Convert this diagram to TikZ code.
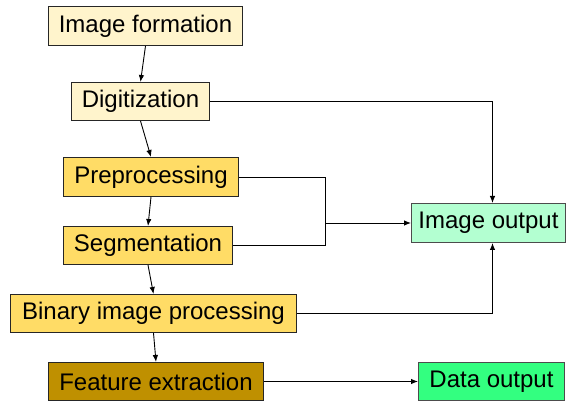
\documentclass[tikz,border=0pt]{standalone}
\usepackage{fontspec}
\setmainfont{Liberation Sans}
\usetikzlibrary{arrows.meta,calc}
\definecolor{paleyellow}{HTML}{FFF4CC}
\definecolor{goldbox}{HTML}{FFDC66}
\definecolor{darkgold}{HTML}{BF9000}
\definecolor{mintbox}{HTML}{B3FFD1}
\definecolor{greenbox}{HTML}{33FF80}
\tikzset{
  x=1pt, y=-1pt,
  stage/.style={draw=black!85, line width=1pt, inner sep=0pt, anchor=north west,
    font=\fontsize{24}{26}\selectfont},
  flow/.style={line width=0.9pt, -{Latex[length=7pt,width=5.5pt]}},
  wire/.style={line width=0.9pt}
}
\begin{document}
\begin{tikzpicture}
\useasboundingbox (0,0) rectangle (566,403);
% processing stages
\node[stage, fill=paleyellow, minimum width=194pt, minimum height=39pt] (form) at (48,6) {Image formation};
\node[stage, fill=paleyellow, minimum width=138pt, minimum height=38pt] (dig) at (71,82) {Digitization};
\node[stage, fill=goldbox, minimum width=175pt, minimum height=39pt] (pre) at (63,157) {Preprocessing};
\node[stage, fill=goldbox, minimum width=169pt, minimum height=38pt] (seg) at (63,226) {Segmentation};
\node[stage, fill=goldbox, minimum width=286pt, minimum height=38pt] (bin) at (10,294) {Binary image processing};
\node[stage, fill=darkgold, minimum width=215pt, minimum height=38pt] (feat) at (48,362) {Feature extraction};
% outputs
\node[stage, fill=mintbox, draw=black!70, minimum width=154pt, minimum height=39pt] (iout) at (411,203) {Image output};
\node[stage, fill=greenbox, draw=black!70, minimum width=146pt, minimum height=38pt] (dout) at (418,362) {Data output};
% main chain
\draw[flow] (form.south) -- (dig.north);
\draw[flow] (dig.south) -- (pre.north);
\draw[flow] (pre.south) -- (seg.north);
\draw[flow] (seg.south) -- (bin.north);
\draw[flow] (bin.south) -- (feat.north);
% routes to the outputs
\coordinate (itop) at ([xshift=4pt]iout.north);
\coordinate (ibot) at ([xshift=4pt]iout.south);
\coordinate (join) at (325,0);
\draw[flow] (dig.east) -| (itop);
\draw[wire] (pre.east) -| (join |- seg.east) -- (seg.east);
\draw[flow] (join |- iout.west) -- (iout.west);
\draw[flow] (bin.east) -| (ibot);
\draw[flow] (feat.east) -- (dout.west);
\end{tikzpicture}
\end{document}
